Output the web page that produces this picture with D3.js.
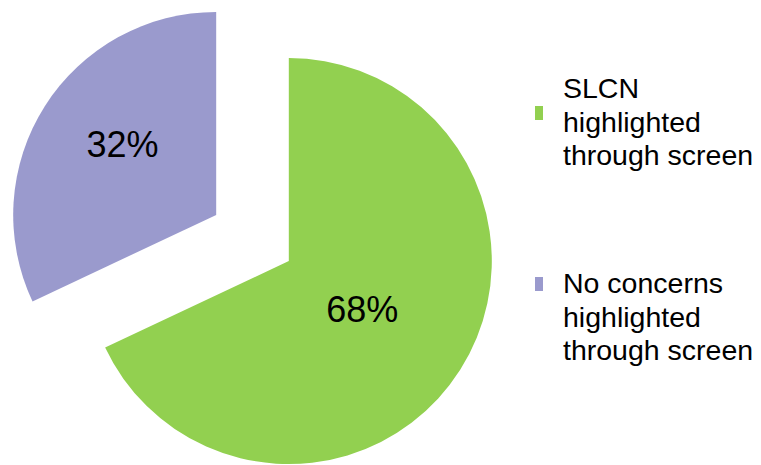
<!DOCTYPE html>
<html>
<head>
<meta charset="utf-8">
<script src="https://cdn.jsdelivr.net/npm/d3@7"></script>
<style>
    body { margin: 0; background: #fff; }
    svg { display: block; font-family: "Liberation Sans", Arial, sans-serif; }
</style>
</head>
<body>
<div class="chart"></div>
<script>
// data
const categories = ["SLCN highlighted through screen", "No concerns highlighted through screen"];
const legendLines = [["SLCN", "highlighted", "through screen"], ["No concerns", "highlighted", "through screen"]];
const shares = [68, 32];
const sliceColors = ["#92d050", "#9a9acd"];

const width = 761, height = 465;
const cx = 252.5, cy = 238, radius = 203, explode = 43;

const svg = d3.select(".chart").append("svg")
    .attr("width", width)
    .attr("height", height);

const pie = d3.pie().sort(null).value(d => d)(shares);
const arc = d3.arc().innerRadius(0).outerRadius(radius);
// label radius differs a bit per slice in the original
const labelArcs = [
    d3.arc().innerRadius(radius * 0.44).outerRadius(radius * 0.44),
    d3.arc().innerRadius(radius * 0.57).outerRadius(radius * 0.57)
];
const labelNudge = [[-2, 0], [4, -9]];

const slices = svg.append("g")
    .attr("transform", `translate(${cx},${cy})`)
    .selectAll("g")
    .data(pie)
    .join("g")
    .attr("transform", d => {
        const mid = (d.startAngle + d.endAngle) / 2;
        return `translate(${explode * Math.sin(mid)},${-explode * Math.cos(mid)})`;
    });

slices.append("path")
    .attr("d", arc)
    .attr("fill", (d, i) => sliceColors[i]);

slices.append("text")
    .attr("transform", (d, i) => {
        const [x, y] = labelArcs[i].centroid(d);
        return `translate(${x + labelNudge[i][0]},${y + labelNudge[i][1]})`;
    })
    .attr("text-anchor", "middle")
    .attr("dy", "0.36em")
    .attr("font-size", 36)
    .attr("fill", "#000")
    .text(d => Math.round(d.data / d3.sum(shares) * 100) + "%");

// legend
const legendTop = [98, 293];
const legend = svg.append("g")
    .selectAll("g")
    .data(categories)
    .join("g")
    .attr("transform", (d, i) => `translate(0,${legendTop[i]})`);

legend.append("rect")
    .attr("x", 535)
    .attr("y", (d, i) => i === 0 ? 8 : -16)
    .attr("width", 8)
    .attr("height", 14)
    .attr("fill", (d, i) => sliceColors[i]);

legend.append("text")
    .attr("x", 563)
    .attr("font-size", 28.5)
    .attr("fill", "#000")
    .selectAll("tspan")
    .data((d, i) => legendLines[i])
    .join("tspan")
    .attr("x", 563)
    .attr("y", (d, j) => j * 33.5)
    .text(d => d);
</script>
</body>
</html>
